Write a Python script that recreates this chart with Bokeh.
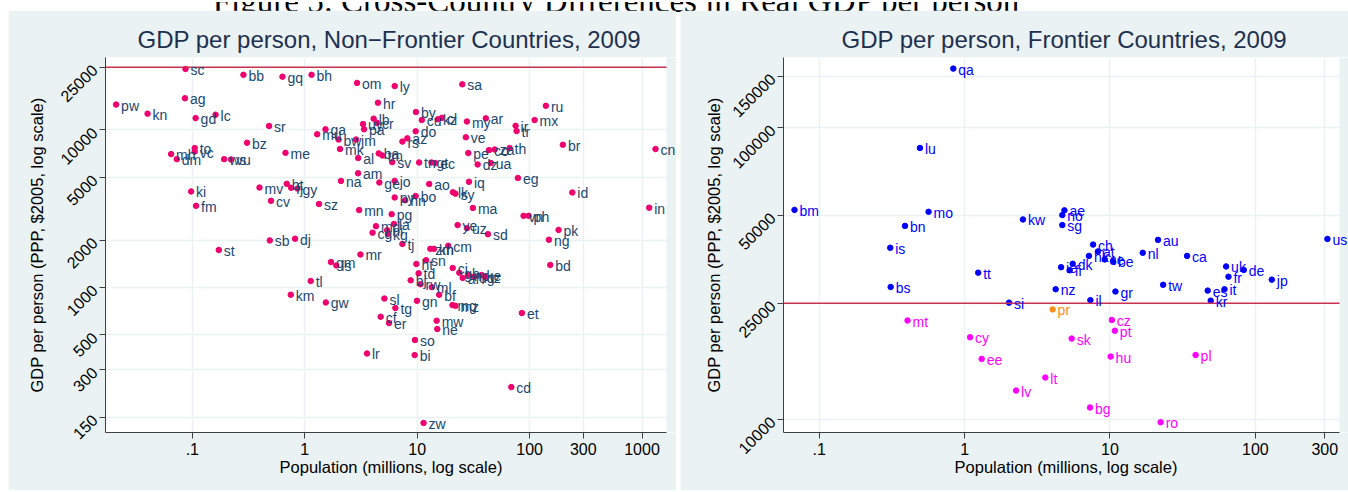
import math
from bokeh.plotting import figure
from bokeh.models import FixedTicker, Span, ColumnDataSource, LabelSet, Div, BoxAnnotation
from bokeh.layouts import row, column
from bokeh.embed import file_html
from bokeh.resources import INLINE
from bokeh.core.properties import value

# ---------------- Non-frontier countries (population in millions, GDP per person PPP $2005)
nf_code = ["sc","bb","gq","bh","om","ly","sa","ag","pw","kn","gd","lc","sr","hr","lb","uy","cr","pa","ga","mu",
           "bw","jm","mk","al","ba","tm","sv","tn","gt","ec","na","am","ge","jo","ao","iq","lk","sy","py","hn",
           "bo","by","cu","kz","cl","my","ar","do","rs","az","ve","pe","co","za","th","dz","ua","eg","ir","tr",
           "mx","ru","br","cn","id","in","vn","ph","ma","mh","dm","to","vc","ws","vu","bz","me","ki","fm","mv",
           "bt","fj","gy","cv","sz","mn","pg","md","la","cg","ni","kg","ye","uz","sd","tj","zm","kh","cm","mr",
           "gm","ls","sn","ht","td","bj","rw","ml","bf","ci","gh","af","np","ug","ke","tz","gn","sl","tg","cf",
           "er","mg","mz","mw","ne","et","so","bi","cd","zw","bd","ng","pk","lr","st","sb","dj","tl","km","gw"]
nf_pop = [0.087,0.285,0.634,1.15,2.92,6.31,25.2,0.086,0.021,0.040,0.107,0.161,0.482,4.48,4.10,3.30,4.40,3.37,1.53,1.29,
          2.00,2.86,2.06,2.99,4.55,4.91,6.0,10.4,13.4,14.5,2.10,2.98,4.61,6.31,12.8,28.9,20.8,21.9,6.31,7.82,
          9.7,9.75,11.0,15.3,16.6,27.7,40.8,9.7,7.39,8.18,27.1,28.5,43.5,48.9,66.4,34.5,45.2,78.7,75.1,76.6,
          110.8,139.6,197.7,1318,239.8,1159,88.4,98.0,31.3,0.0648,0.0728,0.105,0.105,0.192,0.221,0.307,0.674,0.0976,0.108,0.396,
          0.692,0.756,0.861,0.501,1.34,3.05,5.93,4.30,6.22,4.01,5.41,5.50,22.9,27.7,42.6,7.39,13.1,14.1,18.9,3.13,
          1.71,1.91,12.0,9.84,10.3,8.75,10.7,13.5,15.7,20.7,23.7,25.4,28.7,32.0,37.4,40.1,9.96,5.11,6.40,4.74,
          5.62,20.6,21.9,14.9,15.1,85.4,9.56,9.50,68.8,11.4,152.8,148.5,181,3.58,0.172,0.489,0.820,1.13,0.751,1.54]
nf_gdp = [24400,22400,21800,22400,19900,19000,19500,15900,14500,12700,11900,12500,10600,14900,11800,10900,11100,10100,10100,9400,
          8700,8700,7570,6640,7100,6890,6250,6220,6220,6170,4750,5310,4640,4750,4540,4690,4020,3940,3730,3580,
          3810,13000,11560,11690,11940,11320,11860,9810,8440,8850,8990,7140,7450,7520,7680,6040,6170,4960,10630,9840,
          11560,14250,8060,7570,4010,3210,2850,2850,3200,7030,6530,7680,7290,6530,6500,8300,7160,4070,3300,4310,
          4550,4300,4250,3550,3390,3100,2920,2450,2530,2230,2310,2190,2490,2380,2180,1890,1760,1760,1840,1620,
          1450,1380,1490,1410,1230,1110,1050,1005,899,1330,1240,1150,1200,1170,1200,1170,823,851,740,652,
          594,773,765,615,545,688,464,372,233,138,1390,2010,2320,381,1730,1990,2040,1100,899,803]

# ---------------- Frontier countries
fr_hi_code = ["qa","lu","bm","mo","bn","kw","is","ae","no","sg","ch","hk","at","se","be","dk","ie","fi","nl","au",
              "ca","uk","de","fr","jp","us","tw","es","it","kr","nz","gr","il","tt","bs","si"]
fr_hi_pop = [0.836,0.493,0.0676,0.565,0.389,2.52,0.308,4.86,4.70,4.70,7.65,7.16,8.26,9.2,10.5,5.54,4.61,5.28,16.8,21.4,
             33.9,62.9,83.2,65.3,129.7,313,23.2,47.0,61.3,49.3,4.23,10.9,7.33,1.24,0.31,2.02]
fr_hi_gdp = [159200,85100,52200,51400,46000,48400,38700,52000,50100,46300,39700,36300,37600,35300,34800,34100,33200,32400,37200,41200,
             36300,33400,32500,30800,30100,41500,28900,27600,27900,25500,27900,27400,25600,31800,28400,25100]

fr_pr_code = ["pr"]
fr_pr_pop = [4.03]
fr_pr_gdp = [23800]

fr_lo_code = ["mt","cy","ee","lv","lt","sk","bg","cz","pt","hu","ro","pl"]
fr_lo_pop = [0.405,1.09,1.31,2.26,3.59,5.45,7.29,10.3,10.8,10.1,22.3,38.8]
fr_lo_gdp = [21800,19100,16100,12540,13900,18900,10970,21900,20100,16400,9770,16600]

REF_GDP = 25000

# ---------------- tick labels
nf_xticks = [0.1, 1, 10, 100, 300, 1000]
nf_xlabels = [".1", "1", "10", "100", "300", "1000"]
nf_yticks = [150, 300, 500, 1000, 2000, 5000, 10000, 25000]
nf_ylabels = ["150", "300", "500", "1000", "2000", "5000", "10000", "25000"]
fr_xticks = [0.1, 1, 10, 100, 300]
fr_xlabels = [".1", "1", "10", "100", "300"]
fr_yticks = [10000, 25000, 50000, 100000, 150000]
fr_ylabels = ["10000", "25000", "50000", "100000", "150000"]

CAPTION = "Figure 5: Cross-Country Differences in Real GDP per person"

FONT = "Liberation Sans"
BG = "#EAF2F3"
TITLE_COLOR = "#1E3050"
LINE_RED = "#C83250"

# plotted ranges (each panel keeps a thin strip beyond its axis end so labels can run over it)
NF_X_AXIS = (0.0169, 1651)
NF_X_VIEW = (0.0169, 2026)
NF_Y = (120, 28860)
FR_X_AXIS = (0.0568, 379)
FR_X_VIEW = (0.0568, 437)
FR_Y = (9006, 173800)


def make_fig(title, title_off, xr, xbounds, yr, width, mbl, xticks, xlabels, yticks, ylabels, ystand):
    p = figure(x_axis_type="log", y_axis_type="log", x_range=xr, y_range=yr,
               width=width, height=480, output_backend="svg", toolbar_location=None,
               min_border_left=mbl, min_border_right=0, min_border_top=47, min_border_bottom=58,
               title=title)
    p.border_fill_color = BG
    p.background_fill_color = "white"
    p.outline_line_color = None
    p.title.text_font = FONT
    p.title.text_font_size = "24px"
    p.title.text_font_style = "normal"
    p.title.text_color = TITLE_COLOR
    p.title.align = "left"
    p.title.offset = title_off
    p.xaxis.ticker = FixedTicker(ticks=xticks)
    p.yaxis.ticker = FixedTicker(ticks=yticks)
    p.xaxis.major_label_overrides = {t: l for t, l in zip(xticks, xlabels)}
    p.yaxis.major_label_overrides = {t: l for t, l in zip(yticks, ylabels)}
    p.yaxis.major_label_orientation = math.pi / 4
    for ax in (p.xaxis, p.yaxis):
        ax.minor_tick_line_color = None
        ax.major_tick_in = 0
        ax.major_tick_out = 6
        ax.axis_line_color = "#404040"
        ax.major_tick_line_color = "#404040"
        ax.major_label_text_font = FONT
        ax.major_label_text_font_size = "16px"
        ax.major_label_text_color = "black"
        ax.axis_label_text_font = FONT
        ax.axis_label_text_font_size = "16.5px"
        ax.axis_label_text_font_style = "normal"
        ax.axis_label_text_color = "black"
    p.xaxis.bounds = xbounds
    p.xaxis.major_label_standoff = 4
    p.xaxis.axis_label_standoff = 0
    p.yaxis.axis_label_standoff = ystand
    p.xaxis.axis_label = "Population (millions, log scale)"
    p.yaxis.axis_label = "GDP per person (PPP, $2005, log scale)"
    p.xgrid.grid_line_color = BG
    p.ygrid.grid_line_color = BG
    p.xgrid.grid_line_width = 1.5
    p.ygrid.grid_line_width = 1.5
    p.add_layout(Span(location=REF_GDP, dimension="width", line_color=LINE_RED, line_width=1.5))
    # strip beyond the axis end is panel background
    p.add_layout(BoxAnnotation(left=xbounds[1], fill_color=BG, fill_alpha=1.0, line_color=None))
    return p


def add_points(p, codes, pops, gdps, dot_color, text_color):
    src = ColumnDataSource(dict(x=pops, y=gdps, t=codes))
    p.scatter("x", "y", source=src, size=5.5, fill_color=dot_color, line_color=dot_color)
    p.add_layout(LabelSet(x="x", y="y", text="t", source=src, x_offset=5, y_offset=-1,
                          text_font=value(FONT), text_font_size="14px", text_color=text_color,
                          text_align="left", text_baseline="middle"))


p1 = make_fig("GDP per person, Non\u2212Frontier Countries, 2009", 32, NF_X_VIEW, NF_X_AXIS, NF_Y,
              668, 97, nf_xticks, nf_xlabels, nf_yticks, nf_ylabels, 6)
add_points(p1, nf_code, nf_pop, nf_gdp, "#F0006E", "#1A476F")

p2 = make_fig("GDP per person, Frontier Countries, 2009", 58, FR_X_VIEW, FR_X_AXIS, FR_Y,
              668, 103, fr_xticks, fr_xlabels, fr_yticks, fr_ylabels, 0)
add_points(p2, fr_hi_code, fr_hi_pop, fr_hi_gdp, "#0000FF", "#0000FF")
add_points(p2, fr_pr_code, fr_pr_pop, fr_pr_gdp, "#FF8C1A", "#FF8C1A")
add_points(p2, fr_lo_code, fr_lo_pop, fr_lo_gdp, "#FF00FF", "#FF00FF")

caption = Div(text=('<div style="position:relative;height:10px;width:1348px;overflow:hidden;">'
                    '<div style="position:absolute;left:0;top:-24px;width:1232px;text-align:center;'
                    'font-family:\'Liberation Serif\';font-size:33px;white-space:nowrap;color:black;">'
                    + CAPTION + '</div></div>'),
              width=1348, height=10, margin=(0, 0, 0, 0))

panels = row(p1, p2, spacing=4, margin=(0, 0, 0, 8))
layout = column(caption, panels, spacing=0)
open("out.html", "w").write(file_html(layout, INLINE))
